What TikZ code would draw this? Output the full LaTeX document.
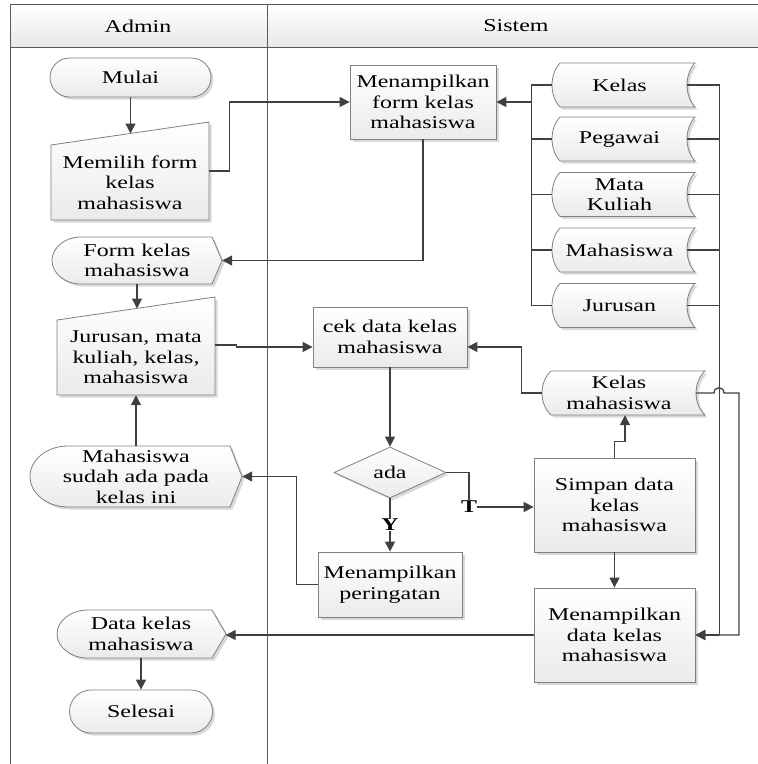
\documentclass[tikz,border=0pt]{standalone}
\usepackage{fontspec}
\setmainfont{Liberation Serif}[FakeStretch=1.33]
\usetikzlibrary{arrows.meta,shapes.geometric,shapes.misc,shadows,calc}

\definecolor{wirec}{HTML}{404040}
\definecolor{edgec}{HTML}{808080}
\definecolor{lanec}{HTML}{5A5A5A}

% manual input: x0, y top-left, x1, y top-right, y bottom
\newcommand\manin[5]{\path[shp] (#1,#2) -- (#3,#4) -- (#3,#5) -- (#1,#5) -- cycle;}

% display: x0, y0, x1, y1, round part width, pointed part width
\newcommand\dispshape[6]{%
  \pgfmathsetmacro\dsM{(#2+#4)/2}%
  \pgfmathsetmacro\dsA{#1+#5}%
  \pgfmathsetmacro\dsC{#1+0.448*#5}%
  \pgfmathsetmacro\dsK{0.552*(#4-#2)/2}%
  \pgfmathsetmacro\dsP{#3-#6}%
  \pgfmathsetmacro\dsLo{\dsM+\dsK}%
  \pgfmathsetmacro\dsHi{\dsM-\dsK}%
  \path[shp] (\dsA,#2) -- (\dsP,#2) -- (#3,\dsM) -- (\dsP,#4) -- (\dsA,#4)
    .. controls (\dsC,#4) and (#1,\dsLo) .. (#1,\dsM)
    .. controls (#1,\dsHi) and (\dsC,#2) .. (\dsA,#2) -- cycle;}

% stored data: x0, y0, x1, y1, curve depth
\newcommand\stshape[5]{%
  \pgfmathsetmacro\stA{#1+#5}%
  \pgfmathsetmacro\stB{#1+#5-1.33*#5}%
  \pgfmathsetmacro\stC{#3-1.33*#5}%
  \pgfmathsetmacro\stQ{((#4)-(#2))/4}%
  \pgfmathsetmacro\stYt{#2}%
  \pgfmathsetmacro\stYe{#4}%
  \pgfmathsetmacro\stYa{\stYt+\stQ}%
  \pgfmathsetmacro\stYb{\stYe-\stQ}%
  \path[shp] (\stA,\stYt) -- (#3,\stYt)
    .. controls (\stC,\stYa) and (\stC,\stYb) .. (#3,\stYe) -- (\stA,\stYe)
    .. controls (\stB,\stYb) and (\stB,\stYa) .. (\stA,\stYt) -- cycle;}

% one of the master data stores in the Sistem lane
\newcommand\storeitem[3]{%
  \stshape{552}{#2-22}{695}{#2+22}{8}
  \node[minimum width=135, minimum height=44] (#1) at (619.5,#2) {#3};}

\begin{document}
\begin{tikzpicture}[x=1pt,y=-1pt,
  every node/.style={font=\fontsize{18}{20.5}\selectfont, align=center, inner sep=0pt, text=black},
  shadowed/.style={drop shadow={shadow xshift=2.5pt, shadow yshift=-2.5pt, opacity=0.15, fill=black}},
  shp/.style={draw=edgec, line width=0.8pt, top color=white, bottom color=black!8, shadowed},
  proc/.style={shp, rectangle},
  term/.style={shp, rounded rectangle},
  wire/.style={draw=wirec, line width=1.3pt},
  arr/.style={wire, -{Triangle[length=10pt,width=10pt]}},
  flag/.style={font=\fontsize{18}{20.5}\selectfont\bfseries}]
\useasboundingbox (0,0) rectangle (758,764);

% swimlane frame
\shade[top color=white, bottom color=black!9] (10,4) rectangle (758,47);
\draw[lanec, line width=1pt] (758,4) -- (10,4) -- (10,764);
\draw[lanec, line width=1pt] (10,47) -- (758,47);
\draw[lanec, line width=1pt] (267,4) -- (267,764);
\node (hadmin) at (138,26) {Admin};
\node (hsistem) at (516,26) {Sistem};

% Admin lane
\node[term, minimum width=161, minimum height=39] (mulai) at (130.5,77.5) {Mulai};

\manin{51}{145}{209}{122}{220}
\node[minimum width=158, minimum height=75] (memilih) at (130,182.5) {Memilih form\\kelas\\mahasiswa};
\coordinate (memilih-in) at (130.5,133.5);

\dispshape{52}{237}{222}{284}{29}{10}
\node[minimum width=170, minimum height=47] (formk) at (137,260.5) {Form kelas\\mahasiswa};

\manin{57}{320}{215}{297}{395}
\node[minimum width=158, minimum height=75] (input) at (136,357.5) {Jurusan, mata\\kuliah, kelas,\\mahasiswa};
\coordinate (input-in) at (137,308.5);

\dispshape{30}{446}{242}{507}{38}{12}
\node[minimum width=212, minimum height=61] (sudah) at (136,476.5) {Mahasiswa\\sudah ada pada\\kelas ini};

\dispshape{57}{610}{226}{658}{31}{14}
\node[minimum width=169, minimum height=48] (dkelas) at (141,634) {Data kelas\\mahasiswa};

\node[term, minimum width=143, minimum height=43] (selesai) at (141,711.5) {Selesai};

% Sistem lane
\node[proc, minimum width=146, minimum height=74] (mform) at (423,102) {Menampilkan\\form kelas\\mahasiswa};

\storeitem{kelas}{85}{Kelas}
\storeitem{pegawai}{139}{Pegawai}
\storeitem{matkul}{194.5}{Mata\\Kuliah}
\storeitem{mhs}{250}{Mahasiswa}
\storeitem{jurusan}{305.5}{Jurusan}

\node[proc, minimum width=154, minimum height=60] (cek) at (390,337) {cek data kelas\\mahasiswa};

\stshape{542}{371}{705}{415}{9}
\node[minimum width=154, minimum height=44] (kmhs) at (619,393) {Kelas\\mahasiswa};

\node[shp, diamond, minimum width=112, minimum height=51] (ada) at (390,472.5) {ada};
\node[flag] (tlab) at (469,507) {T};
\node[flag] (ylab) at (390,525) {Y};

\node[proc, minimum width=144, minimum height=65] (warn) at (390,584.5) {Menampilkan\\peringatan};
\node[proc, minimum width=161, minimum height=94] (simpan) at (614.5,505) {Simpan data\\kelas\\mahasiswa};
\node[proc, minimum width=161, minimum height=94] (mdata) at (614.5,635) {Menampilkan\\data kelas\\mahasiswa};

% connectors
\draw[arr] (mulai.south) -- (memilih-in);
\draw[arr] ($(memilih.east)+(0,-11.5)$) -- ++(20,0) |- (mform.west);

\draw[wire] (kelas.west) -| ($(jurusan.west)+(-20,0)$) -- (jurusan.west);
\foreach \s in {pegawai,matkul,mhs} \draw[wire] (\s.west) -- ++(-20,0);
\draw[arr] ($(kelas.west)+(-20,0)$) |- (mform.east);

\draw[wire] (kelas.east) -| ($(mdata.east)+(24,0)$);
\foreach \s in {pegawai,matkul,mhs,jurusan} \draw[wire] (\s.east) -- ++(32,0);
\draw[arr] ($(mdata.east)+(24,0)$) -- (mdata.east);

\draw[arr] (mform.south) |- (formk.east);
\draw[arr] (formk.south) -- (input-in);
\draw[arr] ($(input.east)+(0,-12.5)$) -- ++(21,0) |- ($(cek.west)+(0,10)$);
\draw[arr] (kmhs.west) -- ++(-20,0) |- ($(cek.east)+(0,10)$);
\draw[arr] (cek.south) -- (ada.north);

\draw[wire] (ada.east) -| (tlab.north);
\draw[arr] (tlab.east) -- (tlab.east -| simpan.west);
\draw[wire] (ada.south) -- (ylab.north);
\draw[arr] (ylab.south) -- (warn.north);

\draw[arr] (warn.west) -- ++(-21,0) |- (sudah.east);
\draw[arr] (sudah.north) -- (input.south);

\draw[arr] (simpan.north) -- ++(0,-16) -| ($(kmhs.south)+(6,0)$);
\draw[arr] (simpan.south) -- (mdata.north);

\draw[arr] (kmhs.east) -- (714,393) .. controls (714,386) and (724,386) .. (724,393)
  -- (739,393) |- (mdata.east);

\draw[arr] (mdata.west) -- (mdata.west -| dkelas.east);
\draw[arr] (dkelas.south) -- (selesai.north);
\end{tikzpicture}
\end{document}
